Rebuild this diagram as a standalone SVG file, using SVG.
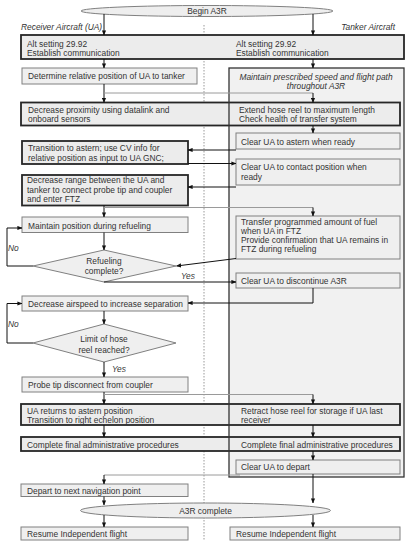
<svg xmlns="http://www.w3.org/2000/svg" width="410" height="550" viewBox="0 0 410 550">
<style>
.t{font-family:"Liberation Sans",Arial,sans-serif;font-size:8.4px;fill:#333}
.i{font-style:italic}
.m{text-anchor:middle}
.e{text-anchor:end}
.box{fill:#efefef;stroke:#808080;stroke-width:1}
.thick{fill:#ececec;stroke:#262626;stroke-width:1.8}
.pfill{fill:#f1f1f1;stroke:none}
.pline{fill:none;stroke:#333;stroke-width:1.3}
.ell{fill:#eeeeee;stroke:#808080;stroke-width:1}
.ln{fill:none;stroke:#111;stroke-width:1}
.gl{fill:none;stroke:#9a9a9a;stroke-width:1}
.dot{fill:none;stroke:#999;stroke-width:1;stroke-dasharray:1.5 1.5}
</style>
<defs>
<marker id="a" markerWidth="5" markerHeight="5" refX="4.6" refY="2.5" orient="auto" markerUnits="userSpaceOnUse">
<path d="M0,0.4 L5,2.5 L0,4.6z" fill="#111"/>
</marker>
</defs>
<rect width="410" height="550" fill="#fff"/>
<line class="dot" x1="204" y1="25" x2="204" y2="540"/>
<g id="lane-labels">
<text class="t i" x="21" y="30">Receiver Aircraft (UA)</text>
<text class="t i e" x="395" y="30">Tanker Aircraft</text>
</g>
<g id="begin">
<ellipse class="ell" cx="207" cy="11" rx="126" ry="5.5"/>
<text class="t m" x="207" y="14">Begin A3R</text>
</g>
<g id="alt">
<rect class="thick" x="21" y="35" width="383" height="24"/>
<text class="t" x="27" y="46.5">Alt setting 29.92</text>
<text class="t" x="27" y="55.5">Establish communication</text>
<text class="t" x="236" y="46.5">Alt setting 29.92</text>
<text class="t" x="236" y="55.5">Establish communication</text>
</g>
<g id="tanker-panel">
<rect class="pfill" x="229" y="68" width="175" height="409"/>
<text class="t i m" x="316" y="79.5">Maintain prescribed speed and flight path</text>
<text class="t i m" x="316" y="89">throughout A3R</text>
</g>
<g id="determine">
<rect class="box" x="22" y="68" width="175" height="16"/>
<text class="t" x="28" y="79">Determine relative position of UA to tanker</text>
</g>
<g id="proximity">
<rect class="thick" x="21" y="102.5" width="379" height="23"/>
<text class="t" x="28" y="113">Decrease proximity using datalink and</text>
<text class="t" x="28" y="122">onboard sensors</text>
<text class="t" x="239" y="113">Extend hose reel to maximum length</text>
<text class="t" x="239" y="122">Check health of transfer system</text>
</g>
<g id="clear-astern">
<rect class="box" x="236" y="133" width="164" height="16"/>
<text class="t" x="241" y="144.5">Clear UA to astern when ready</text>
</g>
<g id="transition">
<rect class="thick" x="22" y="141" width="166" height="23"/>
<text class="t" x="28" y="151">Transition to astern; use CV info for</text>
<text class="t" x="28" y="160.5">relative position as input to UA GNC;</text>
</g>
<g id="clear-contact">
<rect class="box" x="236" y="159" width="164" height="26"/>
<text class="t" x="241" y="170">Clear UA to contact position when</text>
<text class="t" x="241" y="180">ready</text>
</g>
<g id="decrease-range">
<rect class="thick" x="22" y="175" width="166" height="30.5"/>
<text class="t" x="27" y="183">Decrease range between the UA and</text>
<text class="t" x="27" y="192.5">tanker to connect probe tip and coupler</text>
<text class="t" x="27" y="202">and enter FTZ</text>
</g>
<g id="maintain-position">
<rect class="box" x="22" y="217" width="166" height="15.5"/>
<text class="t" x="28" y="228.5">Maintain position during refueling</text>
</g>
<g id="transfer">
<rect class="box" x="236" y="216" width="164" height="43"/>
<text class="t" x="241" y="224.5">Transfer programmed amount of fuel</text>
<text class="t" x="241" y="233.5">when UA in FTZ</text>
<text class="t" x="241" y="242.5">Provide confirmation that UA remains in</text>
<text class="t" x="241" y="251.5">FTZ during refueling</text>
</g>
<g id="refueling-complete">
<polygon class="box" points="104,250 176,266 104,282 33,266"/>
<text class="t m" x="104" y="264">Refueling</text>
<text class="t m" x="104" y="273.5">complete?</text>
</g>
<g id="clear-discontinue">
<rect class="box" x="236" y="273" width="164" height="15"/>
<text class="t" x="241" y="284">Clear UA to discontinue A3R</text>
</g>
<g id="decrease-airspeed">
<rect class="box" x="22" y="296" width="166" height="15"/>
<text class="t" x="28" y="307">Decrease airspeed to increase separation</text>
</g>
<g id="hose-limit">
<polygon class="box" points="104,324 176,343 104,362 33,343"/>
<text class="t m" x="104" y="341.5">Limit of hose</text>
<text class="t m" x="104" y="352.5">reel reached?</text>
</g>
<g id="probe-disconnect">
<rect class="box" x="22" y="377" width="166" height="15"/>
<text class="t" x="28" y="388">Probe tip disconnect from coupler</text>
</g>
<g id="ua-returns">
<rect class="thick" x="21" y="404" width="379" height="21"/>
<text class="t" x="27" y="413.5">UA returns to astern position</text>
<text class="t" x="27" y="423">Transition to right echelon position</text>
<text class="t" x="241" y="413.5">Retract hose reel for storage if UA last</text>
<text class="t" x="241" y="423">receiver</text>
</g>
<g id="complete-admin">
<rect class="thick" x="21" y="437" width="379" height="14"/>
<text class="t" x="27" y="447.5">Complete final administrative procedures</text>
<text class="t" x="241" y="447.5">Complete final administrative procedures</text>
</g>
<g id="clear-depart">
<rect class="box" x="236" y="460" width="164" height="14"/>
<text class="t" x="241" y="470">Clear UA to depart</text>
</g>
<rect class="pline" x="229" y="68" width="175" height="409"/>
<g id="depart">
<rect class="box" x="21" y="484" width="167" height="12.5"/>
<text class="t" x="27" y="493.5">Depart to next navigation point</text>
</g>
<g id="a3r-complete">
<ellipse class="ell" cx="205.5" cy="510.5" rx="125" ry="7.5"/>
<text class="t m" x="205.5" y="513.5">A3R complete</text>
</g>
<g id="resume-ua">
<rect class="box" x="21" y="527" width="167" height="13"/>
<text class="t" x="27" y="537">Resume Independent flight</text>
</g>
<g id="resume-tanker">
<rect class="box" x="230" y="527" width="170" height="13"/>
<text class="t" x="236" y="537">Resume Independent flight</text>
</g>
<g id="connectors">
<path class="ln" d="M104,14 V35" marker-end="url(#a)"/>
<path class="ln" d="M313,14 V35" marker-end="url(#a)"/>
<path class="ln" d="M104,59 V68" marker-end="url(#a)"/>
<path class="ln" d="M313,59 V68" marker-end="url(#a)"/>
<path class="ln" d="M104,84 V102.5" marker-end="url(#a)"/>
<path class="gl" d="M104,93 H313"/>
<path class="ln" d="M313,93 V102.5" marker-end="url(#a)"/>
<path class="ln" d="M313,125.5 V133" marker-end="url(#a)"/>
<path class="ln" d="M236,150 H188" marker-end="url(#a)"/>
<path class="ln" d="M188,163.5 H236" marker-end="url(#a)"/>
<path class="ln" d="M236,187 H188" marker-end="url(#a)"/>
<path class="ln" d="M104,205.5 V217" marker-end="url(#a)"/>
<path class="gl" d="M104,207.5 H313"/>
<path class="ln" d="M313,207.5 V216" marker-end="url(#a)"/>
<path class="ln" d="M104,232.5 V250" marker-end="url(#a)"/>
<path class="ln" d="M33,266 H7 V228 H22" marker-end="url(#a)"/>
<path class="ln" d="M236,258.5 L176.5,266" marker-end="url(#a)"/>
<path class="ln" d="M104,282 H236" marker-end="url(#a)"/>
<path class="ln" d="M313,288 V303 H188" marker-end="url(#a)"/>
<path class="ln" d="M104,311 V324" marker-end="url(#a)"/>
<path class="ln" d="M33,343 H7 V303.5 H22" marker-end="url(#a)"/>
<path class="ln" d="M104,362 V377" marker-end="url(#a)"/>
<path class="ln" d="M104,392 V404" marker-end="url(#a)"/>
<path class="gl" d="M104,394.5 H313"/>
<path class="ln" d="M313,394.5 V404" marker-end="url(#a)"/>
<path class="ln" d="M104,425 V437" marker-end="url(#a)"/>
<path class="ln" d="M313,425 V437" marker-end="url(#a)"/>
<path class="ln" d="M313,451 V460" marker-end="url(#a)"/>
<path class="ln" d="M313,474 V503" marker-end="url(#a)"/>
<path class="gl" d="M240,475 H104"/>
<path class="ln" d="M104,475 V484" marker-end="url(#a)"/>
<path class="ln" d="M104,496.5 V505" marker-end="url(#a)"/>
<path class="ln" d="M104,515 V527" marker-end="url(#a)"/>
<path class="ln" d="M313,515 V527" marker-end="url(#a)"/>
<text class="t i" x="8" y="251">No</text>
<text class="t i" x="181" y="279">Yes</text>
<text class="t i" x="8" y="327">No</text>
<text class="t i" x="112" y="372">Yes</text>
</g>
</svg>
